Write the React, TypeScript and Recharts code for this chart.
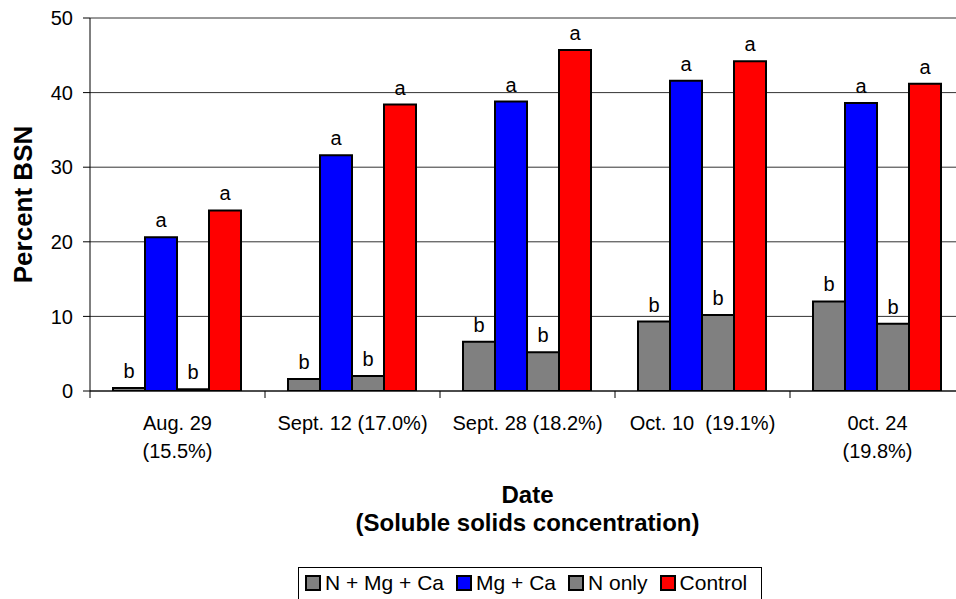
import React from 'react';
import { BarChart, Bar, XAxis, YAxis, CartesianGrid, Legend, LabelList, Label } from 'recharts';

const categories = ['Aug. 29\n(15.5%)', 'Sept. 12 (17.0%)', 'Sept. 28 (18.2%)', 'Oct. 10  (19.1%)', '0ct. 24\n(19.8%)'];
const nMgCa = [0.4, 1.6, 6.6, 9.3, 12.0];
const mgCa = [20.6, 31.6, 38.8, 41.6, 38.6];
const nOnly = [0.25, 2.0, 5.2, 10.2, 9.0];
const control = [24.2, 38.4, 45.7, 44.2, 41.2];
const nMgCaLetters = ['b', 'b', 'b', 'b', 'b'];
const mgCaLetters = ['a', 'a', 'a', 'a', 'a'];
const nOnlyLetters = ['b', 'b', 'b', 'b', 'b'];
const controlLetters = ['a', 'a', 'a', 'a', 'a'];
const yTicks = [0, 10, 20, 30, 40, 50];
const seriesNames = ['N + Mg + Ca', 'Mg + Ca', 'N only', 'Control'];

const data = categories.map((c, i) => ({
  cat: c,
  nMgCa: nMgCa[i],
  mgCa: mgCa[i],
  nOnly: nOnly[i],
  control: control[i],
  nMgCaL: nMgCaLetters[i],
  mgCaL: mgCaLetters[i],
  nOnlyL: nOnlyLetters[i],
  controlL: controlLetters[i],
}));

const FONT = '"Liberation Sans", Arial, sans-serif';

const CategoryTick = (props: any) => {
  const { x, y, payload, index, visibleTicksCount } = props;
  const half = payload.offset || 0;
  const lines = String(payload.value).split('\n');
  return (
    <g>
      <line x1={x - half} y1={y} x2={x - half} y2={y + 7} stroke="#000" strokeWidth={1} />
      {index === visibleTicksCount - 1 && (
        <line x1={x + half} y1={y} x2={x + half} y2={y + 7} stroke="#000" strokeWidth={1} />
      )}
      <text x={x} y={y + 39} textAnchor="middle" fontSize={20} fill="#000" fontFamily={FONT} style={{ whiteSpace: 'pre' }}>
        {lines.map((l, i) => (
          <tspan key={i} x={x} dy={i === 0 ? 0 : 28}>{l}</tspan>
        ))}
      </text>
    </g>
  );
};

const renderLetter = (p: any) => (
  <text x={p.x + p.width / 2} y={p.y - 10} textAnchor="middle" fontSize={20} fill="#000" fontFamily={FONT}>
    {p.value}
  </text>
);

const renderLegend = (props: any) => {
  const items = [...(props.payload || [])].sort(
    (a: any, b: any) => seriesNames.indexOf(a.value) - seriesNames.indexOf(b.value)
  );
  return (
    <div
      style={{
        display: 'inline-flex',
        alignItems: 'center',
        border: '1px solid #000',
        padding: '4px 14px 8px 6px',
        fontFamily: FONT,
        fontSize: 21,
        lineHeight: '22px',
        background: '#fff',
        color: '#000',
        whiteSpace: 'nowrap',
      }}
    >
      {items.map((e: any, i: number) => (
        <span key={i} style={{ display: 'inline-flex', alignItems: 'center', marginRight: i < 3 ? 12 : 0 }}>
          <span
            style={{
              width: 12,
              height: 12,
              background: e.color,
              border: '2px solid #000',
              marginRight: 4,
              display: 'inline-block',
            }}
          />
          <span>{e.value}</span>
        </span>
      ))}
    </div>
  );
};

const YLabel = (props: any) => {
  const vb = props.viewBox || {};
  const cx = 23;
  const cy = vb.y + vb.height / 2;
  return (
    <text
      x={cx}
      y={cy}
      transform={`rotate(-90 ${cx} ${cy})`}
      textAnchor="middle"
      dominantBaseline="central"
      fontWeight="bold"
      fontSize={26}
      fill="#000"
      fontFamily={FONT}
    >
      Percent BSN
    </text>
  );
};

const XLabel = (props: any) => {
  const vb = props.viewBox || {};
  const cx = vb.x + vb.width / 2;
  return (
    <text textAnchor="middle" fontWeight="bold" fontSize={24} fill="#000" fontFamily={FONT}>
      <tspan x={cx} y={vb.y + 112}>Date</tspan>
      <tspan x={cx} y={vb.y + 140}>(Soluble solids concentration)</tspan>
    </text>
  );
};

export default function App() {
  return (
    <div style={{ position: 'absolute', left: 0, top: 0, width: 956, height: 599, overflow: 'hidden', background: '#fff' }}>
      <BarChart
        width={980}
        height={620}
        data={data}
        margin={{ top: 18, right: 15, bottom: 199, left: 0 }}
        barCategoryGap={23}
        barGap={0}
        style={{ fontFamily: FONT }}
      >
        <CartesianGrid vertical={false} stroke="#333" strokeWidth={1} />
        <XAxis
          dataKey="cat"
          height={30}
          tickSize={0}
          tickMargin={0}
          tickLine={false}
          axisLine={{ stroke: '#000', strokeWidth: 1 }}
          tick={<CategoryTick />}
          interval={0}
        >
          <Label content={<XLabel />} />
        </XAxis>
        <YAxis
          width={90}
          domain={[0, 50]}
          ticks={yTicks}
          tickSize={7}
          tickMargin={10}
          tickLine={{ stroke: '#000' }}
          axisLine={{ stroke: '#000', strokeWidth: 1 }}
          tick={{ fontSize: 20, fill: '#000', fontFamily: FONT }}
          allowDataOverflow
        >
          <Label content={<YLabel />} />
        </YAxis>
        <Legend
          layout="vertical"
          align="center"
          verticalAlign="middle"
          itemSorter={null as any}
          wrapperStyle={{ left: 298, top: 567, width: 'auto' }}
          content={renderLegend}
        />
        <Bar dataKey="nMgCa" name={seriesNames[0]} fill="#808080" stroke="#000" strokeWidth={2} isAnimationActive={false}>
          <LabelList dataKey="nMgCaL" content={renderLetter} />
        </Bar>
        <Bar dataKey="mgCa" name={seriesNames[1]} fill="#0000FF" stroke="#000" strokeWidth={2} isAnimationActive={false}>
          <LabelList dataKey="mgCaL" content={renderLetter} />
        </Bar>
        <Bar dataKey="nOnly" name={seriesNames[2]} fill="#808080" stroke="#000" strokeWidth={2} isAnimationActive={false}>
          <LabelList dataKey="nOnlyL" content={renderLetter} />
        </Bar>
        <Bar dataKey="control" name={seriesNames[3]} fill="#FF0000" stroke="#000" strokeWidth={2} isAnimationActive={false}>
          <LabelList dataKey="controlL" content={renderLetter} />
        </Bar>
      </BarChart>
    </div>
  );
}
